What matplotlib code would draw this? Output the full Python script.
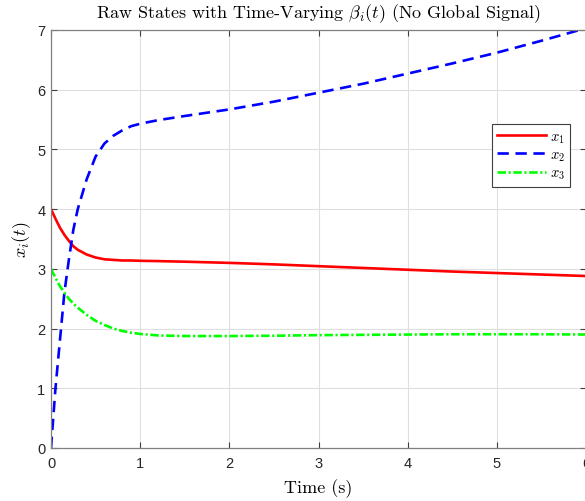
import matplotlib
matplotlib.use("Agg")
import matplotlib.pyplot as plt

plt.rcParams['mathtext.fontset'] = 'cm'
plt.rcParams['font.family'] = ['Liberation Sans', 'DejaVu Sans']

# time samples and state values
t = [0, 0.05, 0.1, 0.15, 0.2, 0.25, 0.3, 0.4, 0.5, 0.6, 0.7, 0.8, 0.9, 1.0,
     1.2, 1.5, 2.0, 2.5, 3.0, 3.5, 4.0, 4.5, 5.0, 5.5, 6.0]
x1 = [4.0, 3.84, 3.69, 3.57, 3.47, 3.38, 3.32, 3.24, 3.19, 3.16, 3.15, 3.14, 3.14, 3.135,
      3.13, 3.12, 3.10, 3.075, 3.045, 3.015, 2.985, 2.955, 2.93, 2.905, 2.88]
x2 = [0.0, 1.0, 1.8, 2.6, 3.15, 3.65, 4.0, 4.5, 4.88, 5.1, 5.23, 5.32, 5.39, 5.43,
      5.49, 5.56, 5.67, 5.8, 5.95, 6.1, 6.27, 6.44, 6.62, 6.82, 7.03]
x3 = [3.0, 2.85, 2.71, 2.6, 2.5, 2.42, 2.35, 2.23, 2.13, 2.06, 2.0, 1.96, 1.93, 1.91,
      1.885, 1.875, 1.875, 1.88, 1.89, 1.895, 1.9, 1.905, 1.905, 1.905, 1.9]

xticks = [0, 1, 2, 3, 4, 5, 6]
yticks = [0, 1, 2, 3, 4, 5, 6, 7]

fig = plt.figure(figsize=(5.85, 5.02), dpi=100)
ax = fig.add_axes([51 / 585, 53 / 502, 535 / 585, 418 / 502])

lw = 1.9
ax.plot(t, x1, color='#ff0000', lw=lw, label='$x_1$')
ax.plot(t, x2, color='#0000ff', lw=lw, dashes=(4.3, 2.5), label='$x_2$')
ax.plot(t, x3, color='#00ff00', lw=lw, dashes=(3.2, 1.0, 0.8, 1.0), label='$x_3$')

ax.set_xlim(0, 6)
ax.set_ylim(0, 7)
ax.set_xticks(xticks)
ax.set_yticks(yticks)
ax.grid(True, color='#dfdfdf', lw=0.8)
ax.set_axisbelow(True)
for s in ax.spines.values():
    s.set_color('#808080')
    s.set_linewidth(0.9)
ax.tick_params(direction='in', length=4, width=0.8, color='#404040',
               labelsize=10.5, labelcolor='#262626', top=True, right=True)
ax.tick_params(axis='x', pad=6)
ax.tick_params(axis='y', pad=4)

ax.set_title(r'Raw States with Time-Varying $\beta_i(t)$ (No Global Signal)',
             family='serif', fontname='cmr10', fontsize=13, pad=9)
ax.set_xlabel('Time (s)', fontname='cmr10', fontsize=13, labelpad=6)
ax.set_ylabel('$x_i(t)$', fontsize=13, labelpad=3)

leg = ax.legend(loc='upper right', bbox_to_anchor=(0.970, 0.775), borderaxespad=0,
                fancybox=False, edgecolor='#404040', framealpha=1, fontsize=10.5,
                handlelength=3.3, handletextpad=0.3, labelspacing=0.2,
                borderpad=0.35)
leg.get_frame().set_linewidth(0.8)

fig.savefig('out.png', dpi=100)
